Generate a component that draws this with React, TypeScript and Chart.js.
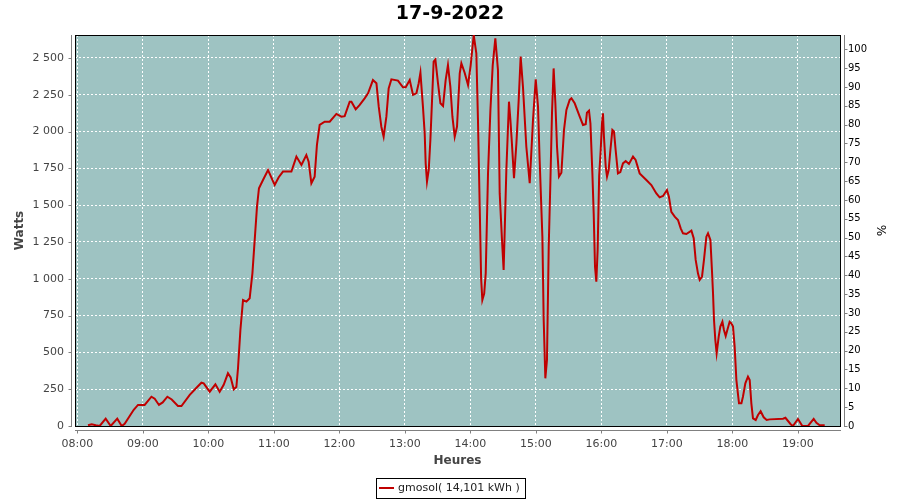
import React, { useEffect, useRef } from 'react';
import { Chart, registerables } from 'chart.js';

Chart.register(...registerables);

const chartTitle = '17-9-2022';
const seriesLabel = 'gmosol( 14,101 kWh )';
const xAxisTitle = 'Heures';
const yAxisTitle = 'Watts';
const y2AxisTitle = '%';

// time of each sample, minutes since midnight
const timesMin = [
  489.7, 493.1, 496.8, 500.4, 505.9, 510.5, 516.5, 520.6, 523.3, 527.9,
  531.6, 535.5, 541.6, 547.8, 550.8, 554.7, 558.1, 562.4, 566.4, 572.1,
  575.3, 582.9, 588.4, 593.6, 595.7, 601.2, 606.4, 610.3, 614.0, 617.9,
  620.4, 623.2, 625.6, 627.1, 629.3, 631.7, 634.8, 637.8, 640.3, 642.4,
  644.5, 646.3, 650.0, 654.6, 660.7, 664.4, 668.3, 676.0, 680.6, 685.2,
  689.7, 691.8, 694.3, 697.3, 699.4, 701.9, 706.5, 711.1, 717.2, 721.8,
  724.8, 729.4, 731.0, 734.9, 738.6, 743.1, 746.2, 750.7, 753.9, 756.0,
  758.4, 760.5, 763.0, 765.1, 767.6, 773.6, 778.2, 780.7, 784.4, 787.4,
  790.5, 792.6, 794.2, 796.5, 798.1, 799.0, 800.2, 801.8, 803.3, 804.2,
  806.3, 807.9, 810.3, 812.5, 814.9, 817.3, 819.4, 821.6, 823.5, 825.6,
  827.7, 830.2, 831.7, 834.7, 837.8, 840.2, 843.0, 845.4, 846.9, 848.5,
  849.8, 850.9, 852.6, 854.0, 856.1, 858.3, 860.4, 862.8, 865.2, 866.8,
  868.9, 870.4, 872.9, 875.3, 876.6, 877.8, 879.9, 882.1, 884.2, 886.0,
  888.1, 891.2, 894.3, 897.3, 899.8, 901.9, 903.4, 905.9, 907.1, 908.6,
  910.1, 911.7, 913.2, 914.7, 916.2, 917.8, 919.3, 921.1, 923.3, 925.7,
  927.9, 930.9, 932.5, 935.5, 940.1, 943.1, 945.6, 946.7, 948.6, 949.9,
  951.7, 952.9, 954.1, 955.3, 956.5, 957.9, 959.3, 960.5, 961.4, 962.3,
  963.9, 965.1, 966.6, 968.2, 970.0, 971.5, 973.0, 975.1, 977.3, 979.7,
  982.2, 985.2, 988.9, 991.3, 995.0, 1001.1, 1005.7, 1010.3, 1013.3, 1016.4,
  1020.0, 1021.8, 1024.0, 1027.1, 1030.1, 1032.6, 1034.7, 1037.8, 1042.4, 1044.5,
  1046.3, 1048.4, 1050.0, 1052.1, 1053.9, 1056.1, 1057.6, 1059.8, 1061.2, 1062.2,
  1063.1, 1064.3, 1065.5, 1067.4, 1068.9, 1070.8, 1072.2, 1073.8, 1075.3, 1077.4,
  1079.0, 1080.5, 1082.0, 1083.6, 1086.0, 1088.2, 1089.6, 1091.8, 1094.2, 1095.8,
  1097.3, 1098.8, 1101.3, 1103.4, 1105.8, 1108.6, 1111.3, 1114.1, 1126.3, 1128.5,
  1133.3, 1135.4, 1140.0, 1144.0, 1149.2, 1154.4, 1156.9, 1159.9, 1164.5,
];

// power in watts
const watts = [
  5, 12, 5, 0, 50, 0, 50, 0, 15, 68,
  110, 143, 143, 199, 185, 143, 160, 199, 180, 136,
  136, 211, 255, 294, 290, 233, 283, 233, 280, 358,
  330, 249, 265, 392, 652, 856, 845, 868, 1037, 1264,
  1490, 1615, 1671, 1739, 1637, 1690, 1728, 1728, 1830, 1773,
  1841, 1796, 1649, 1694, 1909, 2045, 2067, 2067, 2120, 2101,
  2105, 2203, 2203, 2151, 2181, 2226, 2260, 2350, 2328, 2169,
  2033, 1965, 2101, 2293, 2355, 2346, 2301, 2301, 2350, 2249,
  2260, 2328, 2400, 2169, 1988, 1784, 1660, 1739, 1943, 2101,
  2475, 2490, 2328, 2192, 2174, 2350, 2452, 2305, 2101, 1965,
  2033, 2396, 2464, 2400, 2317, 2450, 2656, 2532, 2079, 1490,
  1000, 856, 900, 1037, 1716, 2147, 2450, 2634, 2418, 1580,
  1264, 1060, 1739, 2203, 2079, 1943, 1683, 1920, 2215, 2509,
  2305, 1897, 1649, 2079, 2355, 2169, 1807, 1286, 720, 324,
  448, 1218, 1649, 2124, 2429, 2192, 1897, 1694, 1720, 2011,
  2147, 2215, 2226, 2192, 2101, 2045, 2050, 2128, 2142, 2056,
  1716, 1444, 1082, 980, 1196, 1700, 1875, 2056, 2124, 1965,
  1762, 1694, 1739, 1875, 2011, 2000, 1875, 1716, 1725, 1784,
  1800, 1780, 1830, 1807, 1716, 1671, 1637, 1580, 1553, 1562,
  1603, 1557, 1455, 1422, 1399, 1343, 1309, 1304, 1327, 1275,
  1128, 1037, 992, 1014, 1128, 1286, 1309, 1264, 1060, 901,
  720, 584, 494, 607, 675, 708, 652, 611, 652, 708,
  697, 675, 539, 312, 154, 154, 199, 290, 335, 312,
  154, 52, 41, 75, 100, 59, 41, 45, 50, 56,
  12, 0, 48, 0, 0, 48, 22, 5, 5,
];

const xMinMinutes = 477.8;
const xMaxMinutes = 1178.5;
const hourStep = 60;
const wattsMax = 2656;
const wattsStep = 250;
const pctMax = 103.8;
const pctStep = 5;

const FONT = '"DejaVu Sans", sans-serif';
const LINE_COLOR = '#c00000';
const PLOT_BG = '#9ec3c2';
const AXIS_COLOR = '#808080';

const fmtTime = (v: number) => {
  const h = Math.floor(v / 60);
  const m = Math.round(v - h * 60);
  return `${String(h).padStart(2, '0')}:${String(m).padStart(2, '0')}`;
};
const fmtWatts = (v: number) => {
  if (v >= 1000) {
    const th = Math.floor(v / 1000);
    return `${th} ${String(Math.round(v - th * 1000)).padStart(3, '0')}`;
  }
  return String(v);
};

const decorPlugin = {
  id: 'decor',
  beforeDraw(chart: any) {
    const { ctx, chartArea: a } = chart;
    ctx.save();
    ctx.fillStyle = PLOT_BG;
    ctx.fillRect(a.left, a.top, a.right - a.left, a.bottom - a.top);
    ctx.restore();
  },
  beforeDatasetsDraw(chart: any) {
    const { ctx, chartArea: a } = chart;
    ctx.save();
    ctx.strokeStyle = '#000';
    ctx.lineWidth = 1;
    const l = Math.round(a.left), t = Math.round(a.top);
    const r = Math.round(a.right), b = Math.round(a.bottom);
    ctx.strokeRect(l + 0.5, t + 0.5, r - l, b - t);
    ctx.restore();
  },
  afterDraw(chart: any) {
    const { ctx, chartArea: a, scales } = chart;
    const l = Math.round(a.left), t = Math.round(a.top);
    const r = Math.round(a.right), b = Math.round(a.bottom);
    ctx.save();
    ctx.strokeStyle = AXIS_COLOR;
    ctx.lineWidth = 1;
    ctx.beginPath();
    // left axis
    const lx = l - 4 + 0.5;
    ctx.moveTo(lx, t);
    ctx.lineTo(lx, b + 1);
    scales.y.ticks.forEach((tk: any) => {
      const py = Math.round(scales.y.getPixelForValue(tk.value)) + 0.5;
      ctx.moveTo(lx - 3, py);
      ctx.lineTo(lx, py);
    });
    // bottom axis
    const by = b + 4 + 0.5;
    ctx.moveTo(l, by);
    ctx.lineTo(r + 1, by);
    scales.x.ticks.forEach((tk: any) => {
      const px = Math.round(scales.x.getPixelForValue(tk.value)) + 0.5;
      ctx.moveTo(px, by);
      ctx.lineTo(px, by + 3);
    });
    // right axis
    const rx = r + 4 + 0.5;
    ctx.moveTo(rx, t);
    ctx.lineTo(rx, b + 1);
    scales.y2.ticks.forEach((tk: any) => {
      const py = Math.round(scales.y2.getPixelForValue(tk.value)) + 0.5;
      ctx.moveTo(rx, py);
      ctx.lineTo(rx + 3, py);
    });
    ctx.stroke();

    // legend box
    const ds = chart.data.datasets[0];
    const text = ds.label as string;
    ctx.font = `11px ${FONT}`;
    const tw = ctx.measureText(text).width;
    const boxW = Math.round(3 + 15 + 4 + tw + 5);
    const bx = Math.round(chart.width / 2 - boxW / 2);
    const bTop = 478;
    const bH = 20;
    ctx.strokeStyle = '#000';
    ctx.lineWidth = 1;
    ctx.strokeRect(bx + 0.5, bTop + 0.5, boxW, bH);
    ctx.strokeStyle = ds.borderColor;
    ctx.lineWidth = 2;
    ctx.beginPath();
    ctx.moveTo(bx + 3, bTop + 10);
    ctx.lineTo(bx + 18, bTop + 10);
    ctx.stroke();
    ctx.fillStyle = '#222';
    ctx.textBaseline = 'middle';
    ctx.textAlign = 'left';
    ctx.fillText(text, bx + 22, bTop + 10.5);
    ctx.restore();
  },
};

export default function App() {
  const canvasRef = useRef<HTMLCanvasElement | null>(null);

  useEffect(() => {
    if (!canvasRef.current) return;
    const points = timesMin.map((t, i) => ({ x: t, y: watts[i] }));
    const chart = new Chart(canvasRef.current, {
      type: 'line',
      data: {
        datasets: [
          {
            label: seriesLabel,
            data: points,
            borderColor: LINE_COLOR,
            backgroundColor: LINE_COLOR,
            borderWidth: 2,
            pointRadius: 0,
            tension: 0,
            yAxisID: 'y',
            xAxisID: 'x',
          },
        ],
      },
      options: {
        animation: false,
        responsive: false,
        devicePixelRatio: 1,
        layout: { padding: { left: 0, right: 0, top: 0, bottom: 30 } },
        plugins: {
          legend: { display: false },
          tooltip: { enabled: false },
          title: {
            display: true,
            text: chartTitle,
            color: '#000',
            font: { family: FONT, size: 19, weight: 'bold' },
            padding: { top: 2.6, bottom: 9.6 },
          },
        },
        scales: {
          x: {
            type: 'linear',
            position: 'bottom',
            min: xMinMinutes,
            max: xMaxMinutes,
            ticks: {
              stepSize: hourStep,
              includeBounds: false,
              autoSkip: false,
              maxRotation: 0,
              padding: 12,
              color: '#444',
              font: { family: FONT, size: 11 },
              callback: (v: any) => fmtTime(Number(v)),
            },
            grid: { color: '#ffffff', lineWidth: 1, drawTicks: false },
            border: { display: false, dash: [2, 2] },
            title: {
              display: true,
              text: xAxisTitle,
              color: '#444',
              font: { family: FONT, size: 12, weight: 'bold' },
              padding: { top: 0, bottom: 2 },
            },
            afterFit: (s: any) => {
              s.height = 44;
            },
          },
          y: {
            type: 'linear',
            position: 'left',
            min: 0,
            max: wattsMax,
            ticks: {
              stepSize: wattsStep,
              includeBounds: false,
              autoSkip: false,
              padding: 11,
              color: '#444',
              font: { family: FONT, size: 11 },
              callback: (v: any) => fmtWatts(Number(v)),
            },
            grid: { color: '#ffffff', lineWidth: 1, drawTicks: false },
            border: { display: false, dash: [2, 2] },
            title: {
              display: true,
              text: yAxisTitle,
              color: '#444',
              font: { family: FONT, size: 12, weight: 'bold' },
              padding: { top: 13, bottom: 0 },
            },
            afterFit: (s: any) => {
              s.width = 75;
            },
          },
          y2: {
            type: 'linear',
            position: 'right',
            min: 0,
            max: pctMax,
            ticks: {
              stepSize: pctStep,
              includeBounds: false,
              autoSkip: false,
              padding: 8,
              color: '#000',
              font: { family: FONT, size: 10 },
            },
            grid: { display: false, drawTicks: false },
            border: { display: false },
            title: {
              display: true,
              text: y2AxisTitle,
              color: '#000',
              font: { family: FONT, size: 12 },
              padding: { top: 13, bottom: 0 },
            },
            afterFit: (s: any) => {
              s.width = 60;
            },
          },
        },
      } as any,
      plugins: [decorPlugin],
    });
    return () => chart.destroy();
  }, []);

  return (
    <div style={{ position: 'absolute', left: 0, top: 0, width: 900, height: 500, background: '#fff' }}>
      <canvas ref={canvasRef} width={900} height={500} />
    </div>
  );
}
